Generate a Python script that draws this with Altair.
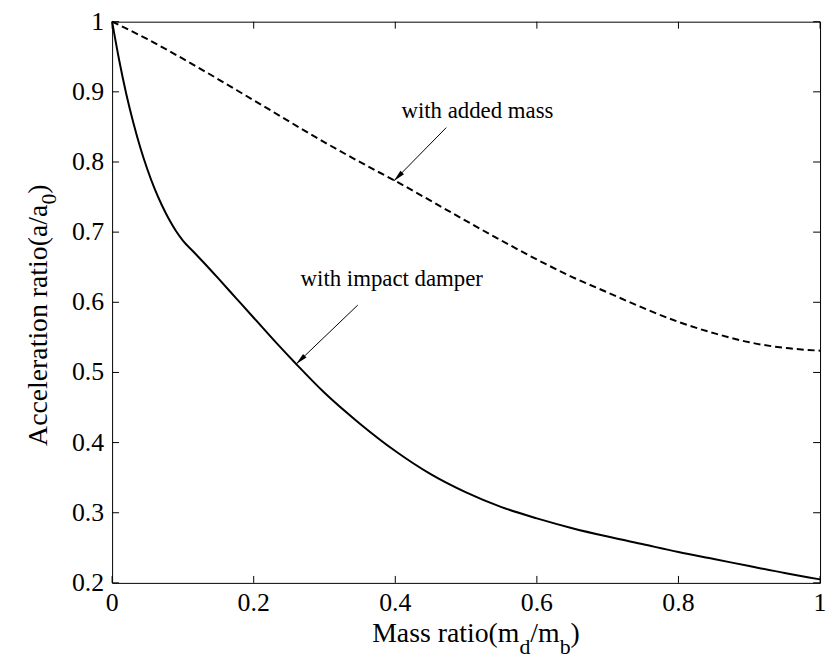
import math
import altair as alt
import pandas as pd

# ---------------- data ----------------
impact_x = [0, 0.01, 0.02, 0.03, 0.04, 0.05, 0.06, 0.07, 0.08, 0.09, 0.1, 0.115, 0.13,
            0.15, 0.175, 0.2, 0.233, 0.26, 0.3, 0.35, 0.4, 0.45, 0.5, 0.55, 0.6, 0.65,
            0.7, 0.75, 0.8, 0.85, 0.9, 0.95, 1.0]
impact_y = [1.0, 0.945, 0.897, 0.856, 0.82, 0.789, 0.762, 0.739, 0.719, 0.702, 0.688,
            0.672, 0.656, 0.634, 0.606, 0.578, 0.541, 0.512, 0.471, 0.427, 0.388, 0.355,
            0.329, 0.308, 0.292, 0.278, 0.266, 0.255, 0.244, 0.234, 0.224, 0.214, 0.205]

added_x = [0, 0.05, 0.121, 0.2, 0.302, 0.372, 0.4, 0.453, 0.5, 0.55, 0.6, 0.65,
           0.7, 0.75, 0.8, 0.85, 0.9, 0.95, 1.0]
added_y = [1.0, 0.975, 0.935, 0.888, 0.827, 0.788, 0.773, 0.743, 0.716, 0.688, 0.661, 0.636,
           0.614, 0.592, 0.572, 0.556, 0.543, 0.535, 0.531]

x_ticks = [0, 0.2, 0.4, 0.6, 0.8, 1.0]
y_ticks = [0.2, 0.3, 0.4, 0.5, 0.6, 0.7, 0.8, 0.9, 1.0]

labels = ["with added mass", "with impact damper"]
label_x = [0.516, 0.395]
label_y = [0.862, 0.623]
arrow_tail_x = [0.472, 0.347]
arrow_tail_y = [0.849, 0.596]
arrow_head_x = [0.398, 0.260]
arrow_head_y = [0.773, 0.512]

# ---------------- layout ----------------
W, H = 714, 566
FONT = "Liberation Serif"
TICK_FS = 26
TITLE_FS = 28
SUB_FS = 22
ANN_FS = 23
TICK_LEN = 7

xs = alt.Scale(domain=[0, 1], nice=False, zero=False)
ys = alt.Scale(domain=[0.2, 1], nice=False, zero=False)


def X(f):
    return alt.X(f, scale=xs, axis=None)


def Y(f):
    return alt.Y(f, scale=ys, axis=None)


df_imp = pd.DataFrame({"x": impact_x, "y": impact_y})
df_add = pd.DataFrame({"x": added_x, "y": added_y})

impact = alt.Chart(df_imp).mark_line(color="black", strokeWidth=2, interpolate="monotone").encode(
    x=X("x:Q"), y=Y("y:Q"))
added = alt.Chart(df_add).mark_line(color="black", strokeWidth=2, strokeDash=[7, 4],
                                    interpolate="monotone").encode(
    x=X("x:Q"), y=Y("y:Q"))

# inward MATLAB-style ticks on all four sides
df_yt = pd.DataFrame({"v": y_ticks})
df_xt = pd.DataFrame({"v": x_ticks})
tick_mark = dict(color="black", strokeWidth=1)
ticks_left = alt.Chart(df_yt).mark_rule(**tick_mark).encode(
    y=Y("v:Q"), x=alt.value(0), x2=alt.value(TICK_LEN))
ticks_right = alt.Chart(df_yt).mark_rule(**tick_mark).encode(
    y=Y("v:Q"), x=alt.value(W - TICK_LEN), x2=alt.value(W))
ticks_bottom = alt.Chart(df_xt).mark_rule(**tick_mark).encode(
    x=X("v:Q"), y=alt.value(H - TICK_LEN), y2=alt.value(H))
ticks_top = alt.Chart(df_xt).mark_rule(**tick_mark).encode(
    x=X("v:Q"), y=alt.value(0), y2=alt.value(TICK_LEN))

# tick labels (serif, MATLAB style)
ylabels = alt.Chart(df_yt).mark_text(
    font=FONT, fontSize=TICK_FS, align="right", baseline="middle", color="black").encode(
    y=Y("v:Q"), x=alt.value(-8), text=alt.Text("v:Q", format="~g"))
xlabels = alt.Chart(df_xt).mark_text(
    font=FONT, fontSize=TICK_FS, align="center", baseline="top", color="black").encode(
    x=X("v:Q"), y=alt.value(H + 7), text=alt.Text("v:Q", format="~g"))

# annotations with arrows
def ang(tx, ty, hx, hy):
    dx = (hx - tx) * W
    dy = -(hy - ty) * H / 0.8
    return math.degrees(math.atan2(dx, -dy)) % 360

df_arr = pd.DataFrame({
    "tx": arrow_tail_x, "ty": arrow_tail_y, "hx": arrow_head_x, "hy": arrow_head_y,
    "ang": [ang(a, b, c, d) for a, b, c, d in zip(arrow_tail_x, arrow_tail_y, arrow_head_x, arrow_head_y)],
})
arrow_lines = alt.Chart(df_arr).mark_rule(color="black", strokeWidth=1).encode(
    x=X("tx:Q"), y=Y("ty:Q"), x2="hx:Q", y2="hy:Q")
arrow_heads = alt.Chart(df_arr).mark_point(
    shape="M0,0L0.42,2L-0.42,2Z", filled=True, color="black", opacity=1,
    size=144, strokeWidth=0).encode(
    x=X("hx:Q"), y=Y("hy:Q"), angle=alt.Angle("ang:Q", scale=None))

df_lab = pd.DataFrame({"x": label_x, "y": label_y, "t": labels})
ann_text = alt.Chart(df_lab).mark_text(
    font=FONT, fontSize=ANN_FS, align="center", baseline="alphabetic", color="black").encode(
    x=X("x:Q"), y=Y("y:Q"), text="t:N")

# axis titles with subscripts (Times metrics, em units)
CW = {"M": .889, "a": .444, "s": .389, " ": .25, "r": .333, "t": .278, "i": .278,
      "o": .5, "(": .333, ")": .333, "m": .778, "d": .5, "/": .278, "b": .5,
      "A": .722, "c": .444, "e": .444, "l": .278, "n": .5, "0": .5}
def tw(s, fs):
    return sum(CW.get(ch, .5) for ch in s) * fs

one = pd.DataFrame({"k": [0]})
def piece(text, x, y, fs, angle=0):
    return alt.Chart(one).mark_text(
        font=FONT, fontSize=fs, align="left", baseline="alphabetic", color="black",
        angle=angle).encode(x=alt.value(x), y=alt.value(y), text=alt.value(text))

# x title: "Mass ratio(m_d/m_b)"
xt_parts = [("Mass ratio(m", TITLE_FS, 0), ("d", SUB_FS, 1), ("/m", TITLE_FS, 0),
            ("b", SUB_FS, 1), (")", TITLE_FS, 0)]
xt_total = sum(tw(s, f) for s, f, _ in xt_parts)
xt_center = 367
xt_base = 626
xt_sub = 12
cur = xt_center - xt_total / 2
xtitle = []
for s, f, sub in xt_parts:
    xtitle.append(piece(s, cur, xt_base + (xt_sub if sub else 0), f))
    cur += tw(s, f)

# y title: "Acceleration ratio(a/a_0)" rotated
yt_parts = [("Acceleration ratio(a/a", TITLE_FS, 0), ("0", SUB_FS, 1), (")", TITLE_FS, 0)]
yt_total = sum(tw(s, f) for s, f, _ in yt_parts)
yt_center = 296
yt_base = -66
yt_sub = 9
cur = yt_center + yt_total / 2
ytitle = []
for s, f, sub in yt_parts:
    ytitle.append(piece(s, yt_base + (yt_sub if sub else 0), cur, f, angle=270))
    cur -= tw(s, f)

chart = alt.layer(
    impact, added, ticks_left, ticks_right, ticks_bottom, ticks_top, ylabels, xlabels,
    arrow_lines, arrow_heads, ann_text, *xtitle, *ytitle
).properties(
    width=W, height=H,
    autosize=alt.AutoSizeParams(type="none"),
    padding={"left": 105, "top": 11, "right": 6, "bottom": 79},
    background="white",
).configure_view(stroke="black", strokeWidth=1)

chart.save("out.html", embed_options={"renderer": "svg", "actions": False})
